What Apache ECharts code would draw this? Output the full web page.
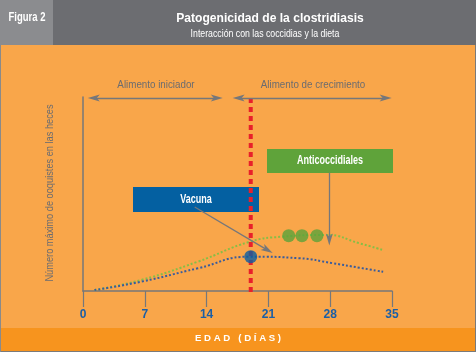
<!DOCTYPE html>
<html><head><meta charset="utf-8">
<script src="https://cdn.jsdelivr.net/npm/echarts@6/dist/echarts.min.js"></script>
<style>html,body{margin:0;padding:0;background:#F9A64A;}#c{width:476px;height:352px;}</style>
</head><body><div id="c"></div>
<script>
// ---- data ----
const xTicks = [0, 7, 14, 21, 28, 35];
const greenCurve = [[1.3, 0.5], [6.6, 5.7], [13, 15.1], [18.9, 25.4], [22.6, 28.0], [27.6, 28.9], [31.3, 24.6], [34, 21.1]];
const blueCurve = [[1.3, 0.5], [6.6, 4.8], [13, 11.7], [18.9, 17.7], [24.5, 16.9], [28.3, 14.3], [31.3, 12.0], [34, 9.9]];
const greenDots = [[23.3, 28.5], [24.8, 28.5], [26.5, 28.5]];
const blueDots = [[19, 17.7]];
const changeDay = 19;
const feedPhases = [
  { name: 'Alimento iniciador', from: 1.22, to: 15.15 },
  { name: 'Alimento de crecimiento', from: 17.63, to: 34.28 }
];
const vacunaArrow = [[12.65, 43.3], [20.9, 21.1]];
const anticArrow = [[27.9, 61.0], [27.9, 26.6]];

const GRAY = '#76777a';
const TXT = '#6b6c70';
const HEAD = 'path://M5,0 L10,14 L5,10.5 L0,14 Z';
const chart = echarts.init(document.getElementById('c'), null, {renderer: 'canvas'});

function txt(x, y, text, font, fill, sx, extra) {
  return Object.assign({type: 'text', x: x, y: y, scaleX: sx,
    style: {text: text, fill: fill, font: font, align: 'center', verticalAlign: 'middle'}, z: 5}, extra || {});
}

chart.setOption({
  backgroundColor: '#F9A64A',
  animation: false,
  grid: {left: 83, right: 84, top: 97, bottom: 61},
  xAxis: {
    type: 'value', min: 0, max: 35, interval: 7,
    axisLine: {lineStyle: {color: GRAY, width: 1.5}},
    axisTick: {show: true, length: 16, lineStyle: {color: GRAY, width: 1.2}},
    axisLabel: {margin: 18, color: '#1b5fa6', fontWeight: 'bold', fontSize: 12, fontFamily: 'Arial',
      formatter: v => xTicks.includes(v) ? String(v) : ''},
    splitLine: {show: false}
  },
  yAxis: {
    type: 'value', min: 0, max: 100,
    axisLine: {show: true, lineStyle: {color: GRAY, width: 1.5}},
    axisTick: {show: false}, axisLabel: {show: false}, splitLine: {show: false}
  },
  series: [
    {type: 'line', data: greenCurve, smooth: 0.5, showSymbol: false, z: 3,
      lineStyle: {type: 'dotted', width: 2, color: '#86be46'}},
    {type: 'line', data: blueCurve, smooth: 0.5, showSymbol: false, z: 3,
      lineStyle: {type: 'dotted', width: 2, color: '#3a5c9c'}},
    {type: 'custom', data: [[changeDay, 0]], z: 4, clip: false, silent: true,
      renderItem: function (params, api) {
        const top = api.coord([api.value(0), 99.5]);
        const bot = api.coord([api.value(0), api.value(1)]);
        return {type: 'line', shape: {x1: top[0], y1: top[1], x2: bot[0], y2: bot[1] + 4},
          style: {stroke: '#e8202a', lineWidth: 4, lineDash: [5, 4]}};
      }},
    {type: 'scatter', data: greenDots, symbolSize: 13, z: 5, itemStyle: {color: '#5ba23a'}},
    {type: 'scatter', data: blueDots, symbolSize: 13, z: 6, itemStyle: {color: '#0a5ea3'}},
    {type: 'line', data: [], clip: false, z: 7,
      markLine: {
        silent: true, animation: false, label: {show: false},
        symbolSize: [7, 12],
        lineStyle: {color: GRAY, width: 1.3, type: 'solid'},
        data: [
          ...feedPhases.map(p => [{coord: [p.from, 99.5], symbol: HEAD}, {coord: [p.to, 99.5], symbol: HEAD}]),
          [{coord: vacunaArrow[0], symbol: 'none'}, {coord: vacunaArrow[1], symbol: HEAD}],
          [{coord: anticArrow[0], symbol: 'none'}, {coord: anticArrow[1], symbol: HEAD}]
        ]
      }}
  ],
  graphic: [
    {type: 'rect', shape: {x: 0, y: 0, width: 476, height: 45}, style: {fill: '#6c6d71'}, z: 1},
    {type: 'rect', shape: {x: 0, y: 0, width: 53, height: 45}, style: {fill: '#8b8c8f'}, z: 2},
    txt(27, 18, 'Figura 2', 'bold 12px Arial', '#fff', 0.79),
    txt(270, 18, 'Patogenicidad de la clostridiasis', 'bold 13px Arial', '#fff', 0.93),
    txt(265, 34, 'Interacción con las coccidias y la dieta', '10px Arial', '#fff', 0.875),
    {type: 'rect', shape: {x: 0, y: 328, width: 476, height: 23}, style: {fill: '#F7941E'}, z: 1},
    txt(238, 339, 'E D A D   ( D Í A S )', 'bold 9px Arial', '#fff', 1.07),
    {type: 'rect', shape: {x: 475, y: 45, width: 1, height: 307}, style: {fill: '#7a7a7a'}, z: 3},
    {type: 'rect', shape: {x: 0, y: 351, width: 476, height: 1}, style: {fill: '#7a7a7a'}, z: 3},
    {type: 'rect', shape: {x: 0, y: 45, width: 1, height: 307}, style: {fill: '#8a8a8a'}, z: 3},
    txt(156, 85, 'Alimento iniciador', '11px Arial', TXT, 0.89),
    txt(313, 85, 'Alimento de crecimiento', '11px Arial', TXT, 0.89),
    txt(50, 193, 'Número máximo de ooquistes en las heces', '11px Arial', TXT, 0.84, {rotation: Math.PI / 2}),
    {type: 'rect', shape: {x: 133, y: 187, width: 126, height: 25}, style: {fill: '#0460a1'}, z: 4},
    txt(196, 199.5, 'Vacuna', 'bold 12px Arial', '#fff', 0.75),
    {type: 'rect', shape: {x: 267, y: 149, width: 126, height: 24}, style: {fill: '#5fa33a'}, z: 4},
    txt(330, 161, 'Anticoccidiales', 'bold 12px Arial', '#fff', 0.75)
  ]
});
</script></body></html>
